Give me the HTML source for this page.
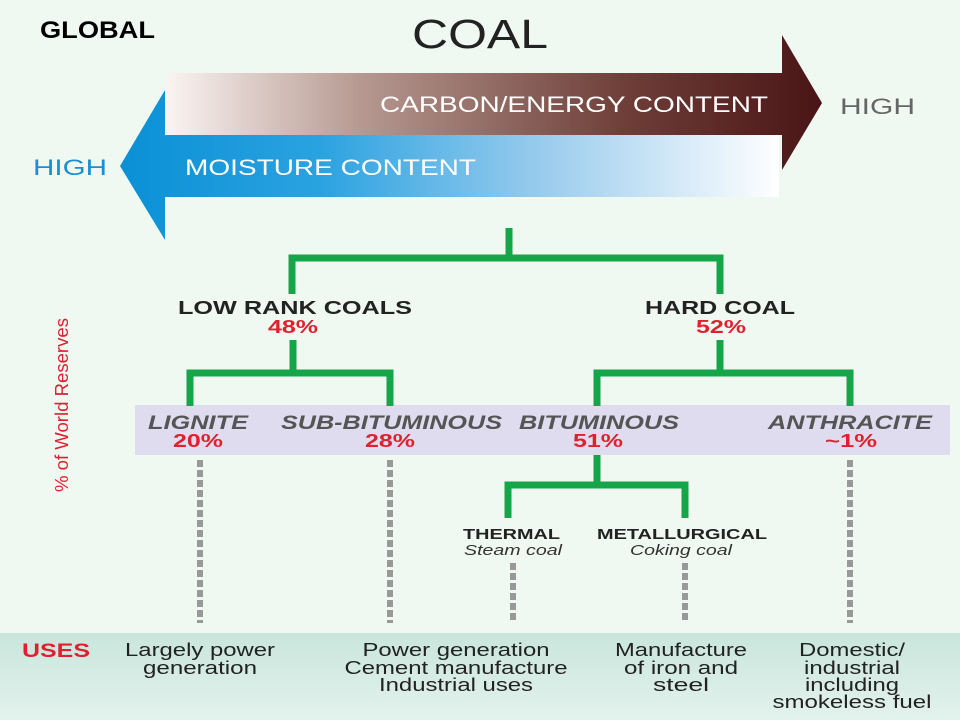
<!DOCTYPE html>
<html><head><meta charset="utf-8"><style>
html,body{margin:0;padding:0;background:#f0f8f2;}
svg{display:block;font-family:"Liberation Sans",Arial,sans-serif;}
</style></head><body>
<svg width="960" height="720" viewBox="0 0 960 720">
<defs>
<linearGradient id="br" x1="0" x2="1" y1="0" y2="0">
<stop offset="0" stop-color="#fbf4f2"/><stop offset="0.3" stop-color="#b59890"/><stop offset="0.7" stop-color="#6e3e38"/><stop offset="1" stop-color="#4a1416"/>
</linearGradient>
<linearGradient id="bl" x1="0" x2="1" y1="0" y2="0">
<stop offset="0" stop-color="#0a90d6"/><stop offset="0.3" stop-color="#2aa2e0"/><stop offset="0.65" stop-color="#9ccdee"/><stop offset="1" stop-color="#ffffff"/>
</linearGradient>
<linearGradient id="bot" x1="0" x2="0" y1="0" y2="1">
<stop offset="0" stop-color="#c9e6dc"/><stop offset="1" stop-color="#e3f2ec"/>
</linearGradient>
</defs>
<rect width="960" height="720" fill="#f0f8f2"/>
<rect x="0" y="633" width="960" height="87" fill="url(#bot)"/>
<g>
<text x="40" y="38" font-size="24" font-weight="bold" fill="#000" textLength="115" lengthAdjust="spacingAndGlyphs">GLOBAL</text>
<text x="412" y="48" font-size="41" fill="#222" textLength="136" lengthAdjust="spacingAndGlyphs">COAL</text>
<path d="M166 73 H782 V35 L822 103 L782 170 V135 H166 Z" fill="url(#br)"/>
<path d="M779 135 V197 H165 V240 L120 166 L165 90 V135 Z" fill="url(#bl)"/>
<text x="380" y="112" font-size="22" fill="#fff" textLength="388" lengthAdjust="spacingAndGlyphs">CARBON/ENERGY CONTENT</text>
<text x="840" y="114" font-size="22" fill="#666" textLength="75" lengthAdjust="spacingAndGlyphs">HIGH</text>
<text x="185" y="175" font-size="22" fill="#fff" textLength="291" lengthAdjust="spacingAndGlyphs">MOISTURE CONTENT</text>
<text x="33" y="175" font-size="22" fill="#1a90d0" textLength="74" lengthAdjust="spacingAndGlyphs">HIGH</text>
<rect x="135" y="405" width="815" height="50" fill="#dedcee"/>
<g stroke="#16a64a" stroke-width="7" fill="none">
<path d="M509 228 V258 M292 294 V258 H720 V294"/>
<path d="M293 340 V373 M190 406 V373 H390 V406"/>
<path d="M720 340 V373 M597 406 V373 H850 V406"/>
<path d="M597 455 V485 M508 518 V485 H685 V518"/>
</g>
<g stroke="#999" stroke-width="6" stroke-dasharray="7 3">
<path d="M200 460 V623 M390 460 V623 M850 460 V623 M513 563 V623 M685 563 V623"/>
</g>
<g font-weight="bold">
<text x="178" y="314" font-size="18" fill="#222" textLength="234" lengthAdjust="spacingAndGlyphs">LOW RANK COALS</text>
<text x="268" y="333" font-size="18" fill="#e0202e" textLength="50" lengthAdjust="spacingAndGlyphs">48%</text>
<text x="645" y="314" font-size="18" fill="#222" textLength="150" lengthAdjust="spacingAndGlyphs">HARD COAL</text>
<text x="696" y="333" font-size="18" fill="#e0202e" textLength="50" lengthAdjust="spacingAndGlyphs">52%</text>
<g font-style="italic" font-size="19" fill="#555">
<text x="148" y="429" textLength="100" lengthAdjust="spacingAndGlyphs">LIGNITE</text>
<text x="281" y="429" textLength="221" lengthAdjust="spacingAndGlyphs">SUB-BITUMINOUS</text>
<text x="519" y="429" textLength="160" lengthAdjust="spacingAndGlyphs">BITUMINOUS</text>
<text x="768" y="429" textLength="164" lengthAdjust="spacingAndGlyphs">ANTHRACITE</text>
</g>
<g font-size="18" fill="#e0202e">
<text x="173" y="447" textLength="50" lengthAdjust="spacingAndGlyphs">20%</text>
<text x="365" y="447" textLength="50" lengthAdjust="spacingAndGlyphs">28%</text>
<text x="573" y="447" textLength="50" lengthAdjust="spacingAndGlyphs">51%</text>
<text x="825" y="447" textLength="52" lengthAdjust="spacingAndGlyphs">~1%</text>
</g>
<text x="463" y="539" font-size="15" fill="#222" textLength="97" lengthAdjust="spacingAndGlyphs">THERMAL</text>
<text x="597" y="539" font-size="15" fill="#222" textLength="170" lengthAdjust="spacingAndGlyphs">METALLURGICAL</text>
</g>
<g font-style="italic" font-size="15" fill="#333">
<text x="464" y="555" textLength="98" lengthAdjust="spacingAndGlyphs">Steam coal</text>
<text x="630" y="555" textLength="102" lengthAdjust="spacingAndGlyphs">Coking coal</text>
</g>
<text transform="translate(68,405) rotate(-90)" text-anchor="middle" font-size="18" fill="#e0202e" textLength="174" lengthAdjust="spacingAndGlyphs">% of World Reserves</text>
<text x="22" y="657" font-size="19" font-weight="bold" fill="#e0202e" textLength="68" lengthAdjust="spacingAndGlyphs">USES</text>
<g font-size="18" fill="#222" text-anchor="middle">
<text x="200" y="656" textLength="150" lengthAdjust="spacingAndGlyphs">Largely power</text><text x="200" y="674" textLength="114" lengthAdjust="spacingAndGlyphs">generation</text>
<text x="456" y="656" textLength="187" lengthAdjust="spacingAndGlyphs">Power generation</text><text x="456" y="674" textLength="223" lengthAdjust="spacingAndGlyphs">Cement manufacture</text><text x="456" y="691" textLength="154" lengthAdjust="spacingAndGlyphs">Industrial uses</text>
<text x="681" y="656" textLength="132" lengthAdjust="spacingAndGlyphs">Manufacture</text><text x="681" y="674" textLength="114" lengthAdjust="spacingAndGlyphs">of iron and</text><text x="681" y="691" textLength="56" lengthAdjust="spacingAndGlyphs">steel</text>
<text x="852" y="656" textLength="106" lengthAdjust="spacingAndGlyphs">Domestic/</text><text x="852" y="674" textLength="96" lengthAdjust="spacingAndGlyphs">industrial</text><text x="852" y="691" textLength="94" lengthAdjust="spacingAndGlyphs">including</text><text x="852" y="708" textLength="159" lengthAdjust="spacingAndGlyphs">smokeless fuel</text>
</g>
</g>
</svg>
</body></html>
